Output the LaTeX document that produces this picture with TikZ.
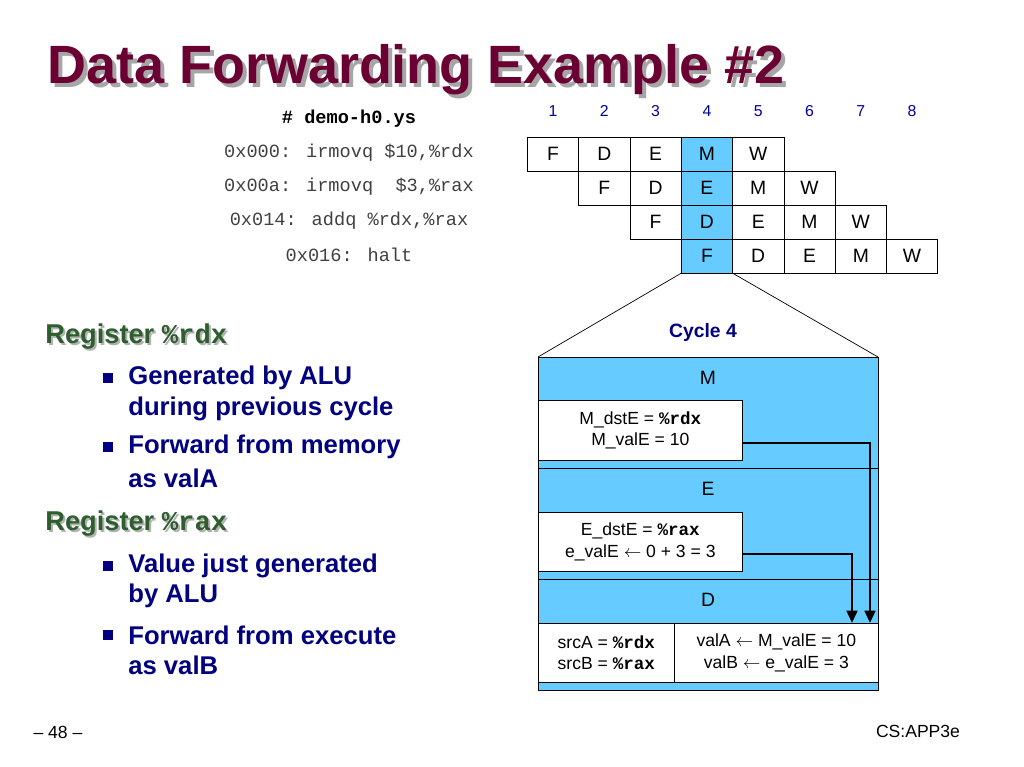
\documentclass[tikz,border=0pt]{standalone}
\usepackage{fontspec}
\setmainfont{Liberation Sans}
\newfontfamily\mono{Liberation Mono}
\usetikzlibrary{arrows.meta}
\definecolor{maroon}{HTML}{6B0032}
\definecolor{navy}{HTML}{000080}
\definecolor{dgreen}{HTML}{2E5E2E}
\definecolor{lblue}{HTML}{66CCFF}
\begin{document}
\begin{tikzpicture}[x=0.02cm,y=-0.02cm,
  cell/.style={draw,minimum width=51.3*0.02cm,minimum height=34*0.02cm,inner sep=0,font=\fontsize{11}{12}\selectfont,anchor=center},
  hl/.style={fill=lblue},
  code/.style={font=\mono\fontsize{10.6}{12}\selectfont,text=black!75},
  bul/.style={anchor=west,inner sep=0,text=navy,font=\bfseries\fontsize{14.6}{16}\selectfont},
  reg/.style={anchor=west,inner sep=0,text=dgreen,font=\bfseries\fontsize{15.5}{17}\selectfont},
  box/.style={draw,fill=white,inner sep=0,font=\fontsize{10}{12}\selectfont,align=center},
  arr/.style={line width=1.6pt,-{Triangle[length=7pt,width=6pt]}},
  bx/.style={fill=navy,minimum size=6pt,inner sep=0}]
\useasboundingbox (0,0) rectangle (1024,767);
% title
\node[anchor=west,inner sep=0,text=black!35,font=\bfseries\fontsize{30.7}{33}\selectfont] at (51,74) {Data Forwarding Example \#2};
\node[anchor=west,inner sep=0,text=maroon,font=\bfseries\fontsize{30.7}{33}\selectfont] (title) at (47,70) {Data Forwarding Example \#2};
% code
\node[code,font=\mono\bfseries\fontsize{10.6}{12}\selectfont,text=black] (c0) at (349,119) {\# demo-h0.ys};
\node[code] (c1) at (349,153) {0x000: irmovq \$10,\%rdx};
\node[code] (c2) at (349,187) {0x00a: irmovq~~\$3,\%rax};
\node[code] (c3) at (349,221) {0x014: addq \%rdx,\%rax};
\node[code] (c4) at (349,255) {0x016: halt};
% cycle numbers
\foreach \i in {1,...,8}
  \node[text=navy!80!blue,font=\fontsize{9}{10}\selectfont] (n\i) at ({553+51.3*(\i-1)},111) {\i};
% pipeline
\foreach \r in {0,1,2,3}{
  \foreach \l [count=\k from 0] in {F,D,E,M,W}{
    \ifnum\numexpr\r+\k\relax=3
      \node[cell,hl] (p\r\k) at ({553+51.3*(\r+\k)},{154+34*\r}) {\l};
    \else
      \node[cell] (p\r\k) at ({553+51.3*(\r+\k)},{154+34*\r}) {\l};
    \fi
  }}
% cycle 4 detail
\coordinate (tl) at (538,357); \coordinate (tr) at (878,357);
\draw (p30.south west) -- (tl);
\draw (p30.south east) -- (tr);
\node[text=navy,font=\bfseries\fontsize{11}{12}\selectfont] (cyc) at (703,332) {Cycle 4};
\fill[lblue] (538,357) rectangle (878,690);
\draw (538,357) rectangle (878,690);
\draw (538,468) -- (878,468);
\draw (538,579) -- (878,579);
\node[font=\fontsize{11}{12}\selectfont] (sM) at (708,378) {M};
\node[font=\fontsize{11}{12}\selectfont] (sE) at (708,489) {E};
\node[font=\fontsize{11}{12}\selectfont] (sD) at (708,600) {D};
\node[box,minimum width=204*0.02cm,minimum height=60*0.02cm,anchor=north west] (mb) at (538,400)
  {M\_dstE = {\mono\bfseries \%rdx}\\M\_valE = 10};
\node[box,minimum width=204*0.02cm,minimum height=59*0.02cm,anchor=north west] (eb) at (538,512)
  {E\_dstE = {\mono\bfseries \%rax}\\e\_valE $\leftarrow$ 0 + 3 = 3};
\node[box,minimum width=136*0.02cm,minimum height=59*0.02cm,anchor=north west] (db1) at (538,623)
  {srcA = {\mono\bfseries \%rdx}\\srcB = {\mono\bfseries \%rax}};
\node[box,minimum width=204*0.02cm,minimum height=59*0.02cm,anchor=north west] (db2) at (674,623)
  {valA $\leftarrow$ M\_valE = 10\\valB $\leftarrow$ e\_valE = 3};
\draw[arr] (mb.east |- 0,443) -| (db2.north -| 870,0);
\draw[arr] (eb.east |- 0,554) -| (db2.north -| 852,0);
% left text
\node[reg,text=black!30] at (47,339) {Register {\mono\bfseries\%rdx}};
\node[reg] (r1) at (45,337) {Register {\mono\bfseries\%rdx}};
\node[bx] (b1) at (108,378) {}; \node[bul] (t1) at (128,378) {Generated by ALU};
\node[bul] (t2) at (128,409) {during previous cycle};
\node[bx] (b2) at (108,447) {}; \node[bul] (t3) at (128,447) {Forward from memory};
\node[bul] (t4) at (128,478) {as valA};
\node[reg,text=black!30] at (47,526) {Register {\mono\bfseries\%rax}};
\node[reg] (r2) at (45,524) {Register {\mono\bfseries\%rax}};
\node[bx] (b3) at (108,566) {}; \node[bul] (t5) at (128,566) {Value just generated};
\node[bul] (t6) at (128,596) {by ALU};
\node[bx] (b4) at (108,635) {}; \node[bul] (t7) at (128,635) {Forward from execute};
\node[bul] (t8) at (128,665) {as valB};
% footer
\node[font=\fontsize{10}{12}\selectfont] (pg) at (58,732) {– 48 –};
\node[font=\fontsize{10}{12}\selectfont] (cs) at (918,731) {CS:APP3e};
\end{tikzpicture}
\end{document}
